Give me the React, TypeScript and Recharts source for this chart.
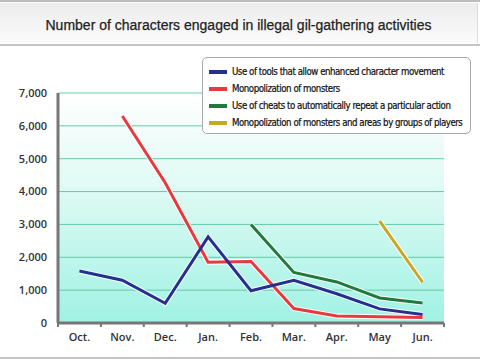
import { LineChart, Line, XAxis, YAxis, CartesianGrid, ReferenceLine } from 'recharts'

const months = ['Oct.', 'Nov.', 'Dec.', 'Jan.', 'Feb.', 'Mar.', 'Apr.', 'May', 'Jun.']
const tools = [1580, 1300, 600, 2620, 980, 1300, 890, 430, 260]
const monsters = [null, 6300, 4270, 1850, 1870, 440, 210, 190, 170]
const cheats = [null, null, null, null, 3000, 1540, 1250, 760, 610]
const groups = [null, null, null, null, null, null, null, 3100, 1240]
const yTicks = [0, 1000, 2000, 3000, 4000, 5000, 6000, 7000]

const series = [
  { key: 'monsters', name: 'Monopolization of monsters', color: '#e63a3f' },
  { key: 'tools', name: 'Use of tools that allow enhanced character movement', color: '#23318f' },
  { key: 'cheats', name: 'Use of cheats to automatically repeat a particular action', color: '#1f7a3b' },
  { key: 'groups', name: 'Monopolization of monsters and areas by groups of players', color: '#c9a725' },
]
const legendOrder = ['tools', 'monsters', 'cheats', 'groups']

const data = months.map((m, i) => ({
  month: m,
  tools: tools[i],
  monsters: monsters[i],
  cheats: cheats[i],
  groups: groups[i],
}))

const tickFont = "'Open Sans', 'DejaVu Sans', sans-serif"

function MonthTick(props: any) {
  const { x, y, payload, index, visibleTicksCount } = props
  const half = payload.offset || 0
  return (
    <g>
      <line x1={x - half} x2={x - half} y1={y - 8} y2={y - 4} stroke="#777" strokeWidth={2} />
      {index === visibleTicksCount - 1 && (
        <line x1={x + half} x2={x + half} y1={y - 8} y2={y - 4} stroke="#777" strokeWidth={2} />
      )}
      <text x={x} y={y + 10} textAnchor="middle" fill="#333" fontSize={11} fontWeight={600} fontFamily={tickFont}>
        {payload.value}
      </text>
    </g>
  )
}

function LegendBox() {
  return (
    <div
      style={{
        position: 'absolute',
        left: 202,
        top: 57,
        width: 269,
        height: 77,
        boxSizing: 'border-box',
        background: '#fff',
        border: '1px solid #aaa',
        borderRadius: 5,
        padding: '5px 0 0 6px',
        fontFamily: "'DejaVu Sans Condensed', 'Liberation Sans Narrow', sans-serif",
        fontSize: 9.6,
        color: '#111',
      }}
    >
      {legendOrder.map(k => {
        const s = series.find(x => x.key === k)!
        return (
          <div key={k} style={{ display: 'flex', alignItems: 'center', height: 17, whiteSpace: 'nowrap' }}>
            <span style={{ display: 'inline-block', width: 18, height: 4, background: s.color, marginRight: 5, flexShrink: 0 }} />
            <span style={{ letterSpacing: -0.45, WebkitTextStroke: '0.2px #111' }}>{s.name}</span>
          </div>
        )
      })}
    </div>
  )
}

export default function App() {
  return (
    <div style={{ position: 'absolute', left: 0, top: 0, width: 480, height: 360, background: '#fff', overflow: 'hidden' }}>
      <div style={{ position: 'absolute', left: 0, top: 0, width: 480, height: 2, background: '#bdbdbd' }} />
      <div
        style={{
          position: 'absolute',
          left: 0,
          top: 3,
          width: 478,
          height: 40,
          boxSizing: 'border-box',
          paddingTop: 4,
          background: 'linear-gradient(#ececec, #fbfbfb)',
          borderRight: '1px solid #ddd',
          display: 'flex',
          alignItems: 'center',
          justifyContent: 'center',
          fontFamily: "'Liberation Sans', Arial, sans-serif",
          fontSize: 14,
          color: '#222',
          WebkitTextStroke: '0.25px #222',
        }}
      >
        Number of characters engaged in illegal gil-gathering activities
      </div>
      <div style={{ position: 'absolute', left: 0, top: 44, width: 480, height: 2, background: '#c4c4c4' }} />
      <div style={{ position: 'absolute', left: 0, top: 357, width: 480, height: 2, background: '#c4c4c4' }} />
      <div style={{ position: 'absolute', left: 0, top: 0 }}>
        <LineChart width={480} height={360} data={data} margin={{ top: 93, right: 36, bottom: 0, left: 0 }}>
          <defs>
            <linearGradient id="plotBg" x1="0" y1="0" x2="0" y2="1">
              <stop offset="0%" stopColor="#ffffff" />
              <stop offset="40%" stopColor="#e0faf4" />
              <stop offset="100%" stopColor="#a0f2e4" />
            </linearGradient>
          </defs>
          <CartesianGrid vertical={false} stroke="#66c9a8" fill="url(#plotBg)" fillOpacity={1} />
          <ReferenceLine y={7000} stroke="#b8e9dc" strokeWidth={1} />
          <XAxis
            dataKey="month"
            scale="band"
            height={37}
            axisLine={{ stroke: '#777', strokeWidth: 3 }}
            tickLine={false}
            tick={<MonthTick />}
            interval={0}
          />
          <YAxis
            width={58}
            domain={[0, 7000]}
            ticks={yTicks}
            tickFormatter={(v: number) => v.toLocaleString('en-US')}
            axisLine={{ stroke: '#777', strokeWidth: 3 }}
            tickLine={false}
            tickMargin={5}
            tick={{ fill: '#333', fontSize: 11, fontWeight: 600, fontFamily: tickFont }}
          />
          {series.map(s => (
            <Line
              key={s.key + '-halo'}
              dataKey={s.key}
              stroke="#fff"
              strokeWidth={5}
              dot={false}
              activeDot={false}
              legendType="none"
              isAnimationActive={false}
            />
          ))}
          {series.map(s => (
            <Line
              key={s.key}
              dataKey={s.key}
              name={s.name}
              stroke={s.color}
              strokeWidth={3}
              dot={false}
              activeDot={false}
              isAnimationActive={false}
            />
          ))}
        </LineChart>
      </div>
      <LegendBox />
    </div>
  )
}
